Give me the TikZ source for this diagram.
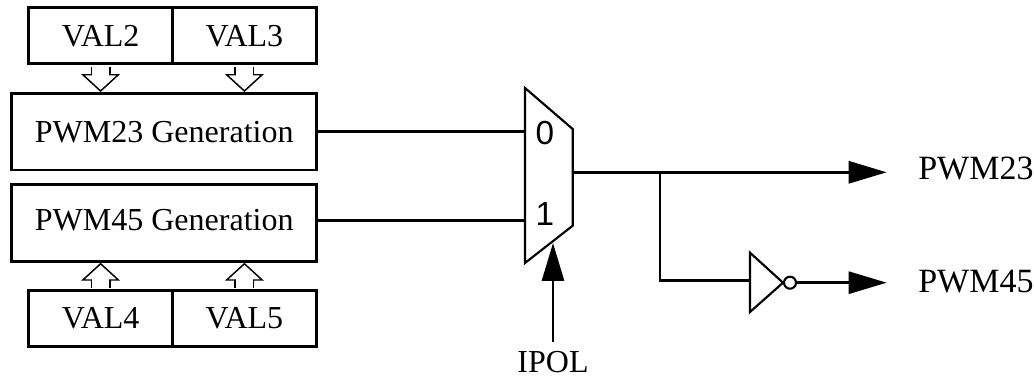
\documentclass[tikz,border=0pt]{standalone}
\usepackage{fontspec}
\setmainfont{Liberation Serif}
\setsansfont{Liberation Sans}
\usetikzlibrary{arrows.meta}

\begin{document}
\begin{tikzpicture}[
    x=0.75pt, y=-0.75pt,
    every node/.style={font=\fontsize{24}{28}\selectfont},
    regbox/.style={draw, rectangle, line width=2.2pt, inner sep=0pt, minimum width=107.85pt, minimum height=42pt},
    genbox/.style={draw, rectangle, line width=2.2pt, inner sep=0pt, minimum width=228.75pt, minimum height=57.4pt},
    outlabel/.style={anchor=west, inner sep=0pt, font=\fontsize{25.5}{29}\selectfont},
    muxdigit/.style={inner sep=0pt, font=\sffamily\fontsize{25}{29}\selectfont},
    wire/.style={line width=2.2pt},
    sigarrow/.style={line width=2.2pt, -{Triangle[length=28.5pt, width=16.5pt]}},
    busarrow/.style={draw, line width=1.1pt, double=white, double distance=12.75pt, shorten <=1pt,
        -{Triangle[fill=white, length=13.5pt, width=29.25pt, line width=1.1pt]},
        postaction={draw=white, double=white, line width=0pt, double distance=12.75pt, arrows=-, shorten <=1pt, shorten >=11pt}}
]

    % --------------------------------------------------------
    % 1. REGISTERS AND GENERATION BLOCKS
    % --------------------------------------------------------

    \path[use as bounding box] (0, 0) rectangle (1034, 377);

    \node (gen23) [genbox] at (164.25, 131.75) {PWM23 Generation};
    \node (gen45) [genbox] at (164.25, 223) {\raisebox{4.5pt}{PWM45 Generation}};

    \node (val2) [regbox] at (100.6, 35.9) {\raisebox{0.6pt}{VAL2}};
    \node (val3) [regbox] at (244.4, 35.9) {\raisebox{0.6pt}{VAL3}};
    \node (val4) [regbox] at (100.6, 318.9) {\raisebox{2pt}{VAL4}};
    \node (val5) [regbox] at (244.4, 318.9) {\raisebox{2pt}{VAL5}};

    % Hollow arrows between the registers and the blocks
    \draw [busarrow] (val2.south) -- (val2.south |- gen23.north);
    \draw [busarrow] (val3.south) -- (val3.south |- gen23.north);
    \draw [busarrow] (val4.north) -- (val4.north |- gen45.south);
    \draw [busarrow] (val5.north) -- (val5.north |- gen45.south);

    % --------------------------------------------------------
    % 2. MULTIPLEXER AND INVERTER
    % --------------------------------------------------------

    \coordinate (muxin0) at (525, 131.7);
    \coordinate (muxin1) at (525, 220.7);
    \coordinate (muxout) at (572.7, 172.3);
    \coordinate (muxsel) at (553, 243);
    \coordinate (branch) at (660, 172.3);

    \draw [line width=1.6pt, line join=miter] (525, 88) -- (572.7, 129) -- (572.7, 225.7) -- (525, 263) -- cycle;
    \node (mux0) [muxdigit] at (545, 133) {0};
    \node (mux1) [muxdigit] at (545, 214) {1};

    \coordinate (invin) at (750, 280.7);
    \draw [line width=1.6pt] (750, 252.7) -- (783, 282.7) -- (750, 312) -- cycle;
    \node (bubble) [draw, circle, line width=1.6pt, inner sep=0pt, minimum size=9pt] at (790, 282.7) {};

    % --------------------------------------------------------
    % 3. SIGNALS
    % --------------------------------------------------------

    \node (pwm23) [outlabel] at (918, 169) {PWM23};
    \node (pwm45) [outlabel] at (918, 282) {PWM45};
    \node (ipol) [inner sep=0pt, anchor=base] at (553, 372) {IPOL};

    \coordinate (pwm23tip) at (886.7, 172.3);
    \coordinate (pwm45tip) at (886.7, 282.7);
    \coordinate (ipolend) at (553, 341.7);

    \draw [wire] (gen23.east |- muxin0) -- (muxin0);
    \draw [wire] (gen45.east |- muxin1) -- (muxin1);
    \draw [wire] (muxout) -- (branch);
    \draw [wire] (branch) |- (invin);
    \draw [sigarrow] (branch) -- (pwm23tip);
    \draw [sigarrow] (bubble) -- (pwm45tip);
    \draw [sigarrow] (ipolend) -- (muxsel);

\end{tikzpicture}
\end{document}
